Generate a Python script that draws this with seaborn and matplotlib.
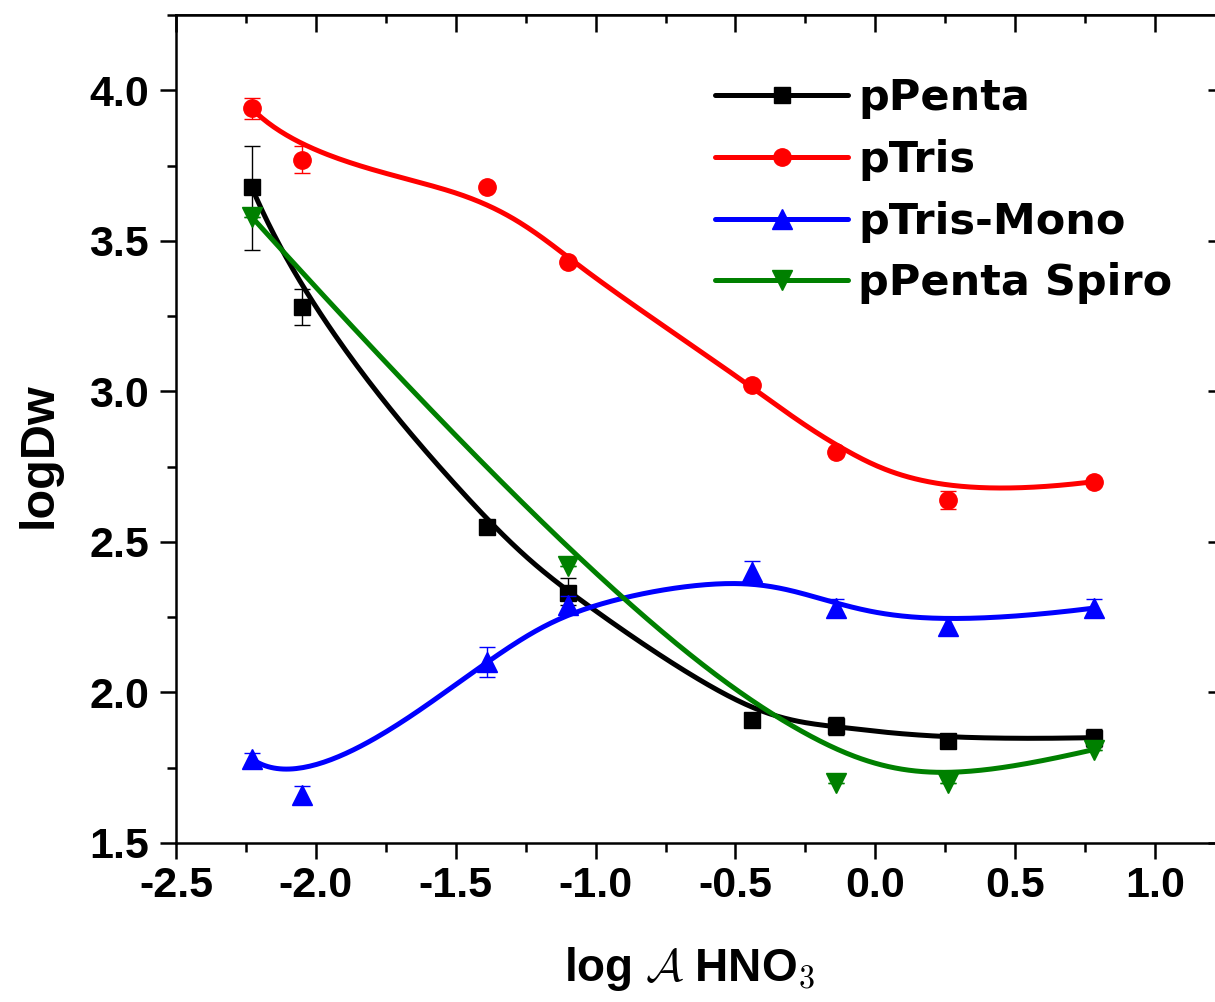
import matplotlib
matplotlib.use("Agg")
import matplotlib.pyplot as plt
from matplotlib.lines import Line2D
from matplotlib.ticker import FormatStrFormatter, MultipleLocator
import numpy as np
import pandas as pd
import seaborn as sns

# ── dados ─────────────────────────────────────────────────────────
log_a = [-2.23, -2.05, -1.39, -1.10, -0.44, -0.14, 0.26, 0.78]

ppenta = [3.68, 3.28, 2.55, 2.33, 1.91, 1.89, 1.84, 1.85]
ppenta_err_lo = [0.21, 0.06, 0.01, 0.04, 0.0, 0.03, 0.01, 0.03]
ppenta_err_hi = [0.135, 0.06, 0.01, 0.05, 0.0, 0.03, 0.01, 0.03]

ptris = [3.94, 3.77, 3.68, 3.43, 3.02, 2.80, 2.64, 2.70]
ptris_err = [0.035, 0.045, 0.01, 0.01, 0.01, 0.01, 0.03, 0.01]

ptris_mono = [1.78, 1.66, 2.10, 2.29, 2.40, 2.28, 2.22, 2.28]
ptris_mono_err = [0.02, 0.03, 0.05, 0.03, 0.035, 0.03, 0.03, 0.03]

spiro_x = [-2.23, -1.10, -0.14, 0.26, 0.78]
spiro = [3.58, 2.42, 1.70, 1.70, 1.81]
spiro_err = [0.0, 0.0, 0.0, 0.0, 0.0]


def bspline(px, py, k=3, num=300):
    # B-spline uniforme fixada nas pontas, pontos = pontos de controle
    P = np.column_stack([px, py])
    n = len(P)
    t = np.r_[np.zeros(k), np.linspace(0, 1, n - k + 1), np.ones(k)]
    u = np.linspace(0, 1, num)
    N = np.array([(t[i] <= u) & (u < t[i + 1]) for i in range(len(t) - 1)], float)
    N[n - 1, -1] = 1.0
    for p in range(1, k + 1):
        M = np.zeros((len(t) - 1 - p, num))
        for i in range(len(t) - 1 - p):
            d1 = t[i + p] - t[i]
            d2 = t[i + p + 1] - t[i + 1]
            if d1 > 0:
                M[i] += (u - t[i]) / d1 * N[i]
            if d2 > 0:
                M[i] += (t[i + p + 1] - u) / d2 * N[i + 1]
        N = M
    return N.T @ P


sns.set_theme(style="ticks")
plt.rcParams["font.family"] = ["Liberation Sans", "DejaVu Sans"]
plt.rcParams["font.weight"] = "bold"
plt.rcParams["mathtext.fontset"] = "cm"
for key in ["text.color", "axes.labelcolor", "xtick.color", "ytick.color", "axes.edgecolor"]:
    plt.rcParams[key] = "black"

fig = plt.figure(figsize=(12.15, 10.02), dpi=100, facecolor="white")
ax = fig.add_axes([176 / 1215, 1 - 843 / 1002, (1225 - 176) / 1215, (843 - 15) / 1002])
ax.set_facecolor("white")

series = [
    ("pPenta", log_a, ppenta, [ppenta_err_lo, ppenta_err_hi], "black", "s", 11),
    ("pTris", log_a, ptris, ptris_err, "red", "o", 12.5),
    ("pTris-Mono", log_a, ptris_mono, ptris_mono_err, "blue", "^", 15),
    ("pPenta Spiro", spiro_x, spiro, spiro_err, "green", "v", 15),
]

handles = []
for z, (name, xs, ys, err, col, mk, ms) in enumerate(series):
    curve = bspline(xs, ys)
    df = pd.DataFrame({"x": curve[:, 0], "y": curve[:, 1]})
    sns.lineplot(data=df, x="x", y="y", sort=False, color=col, linewidth=3.6,
                 ax=ax, zorder=3 + z)
    ax.errorbar(xs, ys, yerr=err, fmt=mk, color=col, markersize=ms,
                elinewidth=1, capsize=6, capthick=1, zorder=3 + z)
    handles.append(Line2D([], [], color=col, linewidth=3.6, marker=mk,
                          markersize=ms, label=name))

ax.set_xlim(-2.5, 1.25)
ax.set_ylim(1.5, 4.25)
ax.set_xticks([-2.5, -2.0, -1.5, -1.0, -0.5, 0.0, 0.5, 1.0])
ax.set_yticks([1.5, 2.0, 2.5, 3.0, 3.5, 4.0])
ax.xaxis.set_minor_locator(MultipleLocator(0.25))
ax.yaxis.set_minor_locator(MultipleLocator(0.25))
ax.xaxis.set_major_formatter(FormatStrFormatter("%.1f"))
ax.yaxis.set_major_formatter(FormatStrFormatter("%.1f"))

ax.tick_params(which="major", direction="out", length=11.5, width=1.8,
               labelsize=31, colors="black", pad=5)
ax.tick_params(which="minor", direction="out", length=6.5, width=1.8)
ax.tick_params(axis="y", which="major", pad=8)
for lab in ax.get_xticklabels() + ax.get_yticklabels():
    lab.set_fontweight("bold")

for side in ["top", "bottom", "left", "right"]:
    ax.spines[side].set_visible(True)
    ax.spines[side].set_linewidth(1.8)
    ax.spines[side].set_color("black")

# ticks internos no topo e à direita
top = ax.secondary_xaxis("top")
top.xaxis.set_major_locator(MultipleLocator(0.5))
top.xaxis.set_minor_locator(MultipleLocator(0.25))
top.tick_params(which="major", direction="in", length=12, width=1.8, labeltop=False)
top.tick_params(which="minor", direction="in", length=6, width=1.8)
right = ax.secondary_yaxis("right")
right.yaxis.set_major_locator(MultipleLocator(0.5))
right.yaxis.set_minor_locator(MultipleLocator(0.25))
right.tick_params(which="major", direction="in", length=12, width=1.8, labelright=False)
right.tick_params(which="minor", direction="in", length=6, width=1.8)

ax.set_xlabel(r"log $\mathcal{A}$ HNO$_\mathbf{3}$", fontsize=33, fontweight="bold")
ax.xaxis.set_label_coords((690 - 176) / 1049, (843 - 945) / 828)
ax.set_ylabel("logDw", fontsize=35, fontweight="bold")
ax.yaxis.set_label_coords((62 - 176) / 1049, (843 - 455) / 828)

leg = ax.legend(handles=handles, loc="upper left", bbox_to_anchor=(715 / 1215, 1 - 77 / 1002),
                bbox_transform=fig.transFigure, frameon=False, borderpad=0,
                borderaxespad=0, handlelength=3.1, handletextpad=0.23,
                labelspacing=0.46,
                prop={"family": "DejaVu Sans", "weight": "bold", "size": 31})

fig.savefig("out.png", dpi=100, facecolor="white")
